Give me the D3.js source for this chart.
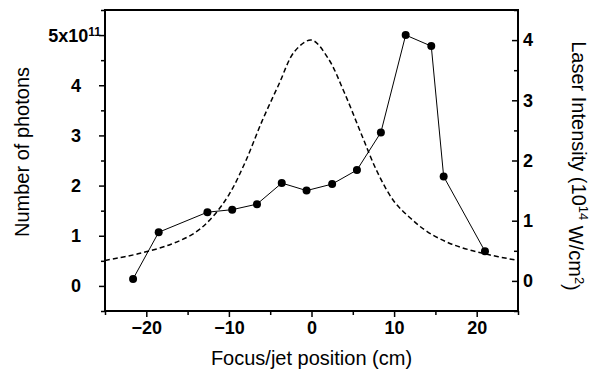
<!DOCTYPE html>
<html>
<head>
<meta charset="utf-8">
<script src="https://cdn.jsdelivr.net/npm/d3@7"></script>
<style>
  body { margin: 0; background: #fff; }
  svg { display: block; }
</style>
</head>
<body>
<svg id="chart" width="598" height="376"></svg>
<script>
// measured points: focus/jet position (cm) and photon number (x1e11)
const position = [-21.6, -18.5, -12.6, -9.6, -6.6, -3.6, -0.6, 2.5, 5.5, 8.4, 11.4, 14.5, 16.0, 21.0];
const photons  = [0.14, 1.07, 1.47, 1.52, 1.63, 2.05, 1.90, 2.03, 2.31, 3.06, 5.00, 4.78, 2.18, 0.69];

// laser intensity curve (1e14 W/cm2)
const curveZ = [-25, -21, -17, -14, -12, -10, -8, -6, -4, -2, 0, 2, 4, 6, 8, 10, 12, 14, 17, 21, 25];
const curveI = [0.34, 0.45, 0.61, 0.81, 1.06, 1.43, 1.98, 2.65, 3.25, 3.82, 4.0, 3.70, 3.12, 2.45, 1.80, 1.32, 1.04, 0.82, 0.61, 0.45, 0.34];

const xMajor = [-20, -10, 0, 10, 20], xMinor = [-25, -15, -5, 5, 15, 25];
const lMajor = [0, 1, 2, 3, 4], lMinor = [-0.5, 0.5, 1.5, 2.5, 3.5, 4.5, 5.5];
const rMajor = [0, 1, 2, 3, 4], rMinor = [-0.5, 0.5, 1.5, 2.5, 3.5, 4.5];

const svg = d3.select("#chart");
const L = 105, R = 518, T = 10, B = 311;
const font = "'Liberation Sans', Arial, sans-serif";

const x  = d3.scaleLinear().domain([-25, 25]).range([L, R]);
const yL = d3.scaleLinear().domain([-0.5, 5.5]).range([B, T]);
const yR = d3.scaleLinear().domain([-0.5, 4.5]).range([B, T]);

// frame
svg.append("rect")
    .attr("x", L).attr("y", T).attr("width", R - L).attr("height", B - T)
    .attr("fill", "none").attr("stroke", "#000").attr("stroke-width", 2);

function styleAxis(g) {
    g.select(".domain").remove();
    g.selectAll(".tick line").attr("stroke", "#000").attr("stroke-width", 1.5);
    g.selectAll(".tick text")
        .attr("font-family", font).attr("font-size", "18px").attr("font-weight", "bold").attr("fill", "#000");
}

// bottom axis, ticks outward
svg.append("g").attr("transform", `translate(0,${B})`)
    .call(d3.axisBottom(x).tickValues(xMajor).tickSize(6).tickPadding(4).tickFormat(d3.format("d")))
    .call(styleAxis);
svg.append("g").attr("transform", `translate(0,${B})`)
    .call(d3.axisBottom(x).tickValues(xMinor).tickSize(4).tickFormat(""))
    .call(styleAxis);

// left axis, ticks outward
svg.append("g").attr("transform", `translate(${L},0)`)
    .call(d3.axisLeft(yL).tickValues(lMajor).tickSize(6).tickPadding(18).tickFormat(d3.format("d")))
    .call(styleAxis);
svg.append("g").attr("transform", `translate(${L},0)`)
    .call(d3.axisLeft(yL).tickValues([5]).tickSize(6).tickFormat(""))
    .call(styleAxis);
svg.append("g").attr("transform", `translate(${L},0)`)
    .call(d3.axisLeft(yL).tickValues(lMinor).tickSize(4).tickFormat(""))
    .call(styleAxis);
const topLabel = svg.append("text")
    .attr("x", L - 4).attr("y", yL(5)).attr("dy", "0.38em")
    .attr("text-anchor", "end")
    .attr("font-family", font).attr("font-size", "18px").attr("font-weight", "bold");
topLabel.append("tspan").text("5x10");
topLabel.append("tspan").attr("dy", "-0.5em").attr("font-size", "12px").text("11");

// right axis, ticks inward
svg.append("g").attr("transform", `translate(${R},0)`)
    .call(d3.axisRight(yR).tickValues(rMajor).tickSizeInner(-6).tickSizeOuter(0).tickPadding(5).tickFormat(d3.format("d")))
    .call(styleAxis);
svg.append("g").attr("transform", `translate(${R},0)`)
    .call(d3.axisRight(yR).tickValues(rMinor).tickSizeInner(-4).tickSizeOuter(0).tickFormat(""))
    .call(styleAxis);

// intensity curve
const intensity = curveZ.map((z, i) => ({ z, v: curveI[i] }));
svg.append("path")
    .datum(intensity)
    .attr("d", d3.line().x(d => x(d.z)).y(d => yR(d.v)).curve(d3.curveCatmullRom.alpha(0.5)))
    .attr("fill", "none").attr("stroke", "#000").attr("stroke-width", 1.5)
    .attr("stroke-dasharray", "5 3");

// photon data
const pts = position.map((p, i) => ({ p, n: photons[i] }));
svg.append("path")
    .datum(pts)
    .attr("d", d3.line().x(d => x(d.p)).y(d => yL(d.n)))
    .attr("fill", "none").attr("stroke", "#000").attr("stroke-width", 1);
svg.selectAll("circle.pt").data(pts).join("circle")
    .attr("class", "pt")
    .attr("cx", d => x(d.p)).attr("cy", d => yL(d.n)).attr("r", 4)
    .attr("fill", "#000");

// titles
svg.append("text")
    .attr("x", (L + R) / 2).attr("y", 365)
    .attr("text-anchor", "middle")
    .attr("font-family", font).attr("font-size", "20px")
    .text("Focus/jet position (cm)");

svg.append("text")
    .attr("transform", "translate(29,152) rotate(-90)")
    .attr("text-anchor", "middle")
    .attr("font-family", font).attr("font-size", "20px")
    .text("Number of photons");

const rt = svg.append("text")
    .attr("transform", "translate(572,166) rotate(90)")
    .attr("text-anchor", "middle")
    .attr("font-family", font).attr("font-size", "20px");
rt.append("tspan").text("Laser Intensity (10");
rt.append("tspan").attr("dy", "-0.5em").attr("font-size", "13px").text("14");
rt.append("tspan").attr("dy", "0.5em").text(" W/cm");
rt.append("tspan").attr("dy", "-0.5em").attr("font-size", "13px").text("2");
rt.append("tspan").attr("dy", "0.5em").text(")");
</script>
</body>
</html>
